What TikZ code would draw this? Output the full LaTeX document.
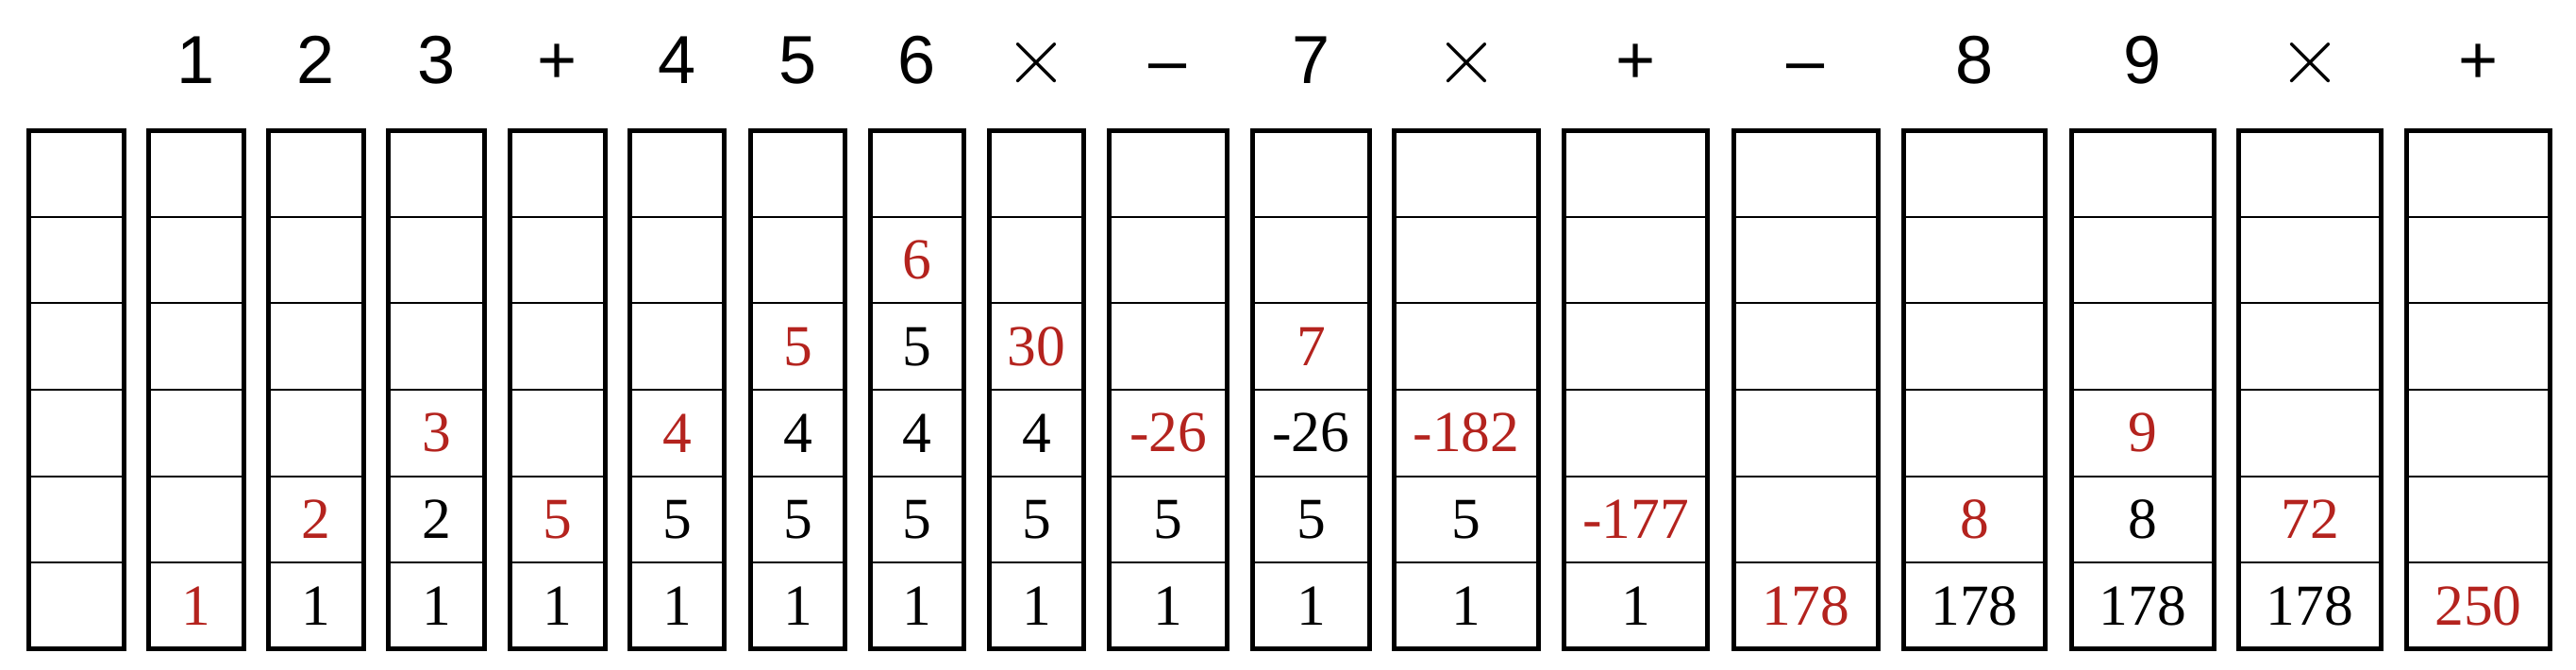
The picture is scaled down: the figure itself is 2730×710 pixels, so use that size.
\documentclass[tikz,border=0pt]{standalone}
\usepackage{fontspec}
\setmainfont{Liberation Serif}
\newfontfamily\headfont{Liberation Sans}
\usetikzlibrary{positioning}
\definecolor{newred}{RGB}{180,35,30}
\tikzset{
cell/.style = { rectangle, draw = black, line width = 0.6pt, inner sep = 0pt, minimum height = 9.158mm },
stack/.style = { rectangle, draw = black, line width = 1.3pt, inner sep = 0pt, minimum height = 54.95mm },
head/.style = { font = \headfont\fontsize{20.5}{24}\selectfont, inner sep = 0pt, anchor = base },
times/.style = { head, font = \fontsize{24}{28}\selectfont },
num/.style = { font = \fontsize{17.5}{21}\selectfont, inner sep = 0pt },
new/.style = { num, text = newred },
}

\begin{document}
\begin{tikzpicture}[x=0.1mm, y=-0.1mm]
    \useasboundingbox (0,0) rectangle (2730,710);
    % stacks: index / left edge / right edge
    \foreach \i/\a/\b in {0/28/134, 1/155/261, 2/282/388, 3/409/516, 4/538/644, 5/665/770,
                          6/793/898, 7/920/1024, 8/1046/1151, 9/1173/1303, 10/1325/1454,
                          11/1475/1633, 12/1655/1812, 13/1835/1993, 14/2015/2170,
                          15/2193/2349, 16/2370/2526, 17/2548/2705} {
      \pgfmathsetmacro\cx{(\a+\b)/2}
      \pgfmathsetmacro\w{(\b-\a-4.5)/10}
      \foreach \k in {1,...,6} {
        \pgfmathsetmacro\cy{687.75-(\k-0.5)*91.58}
        \node[cell, minimum width = \w mm] (c\i-\k) at (\cx,\cy) {};
      }
      \node[stack, minimum width = \w mm] (s\i) at (\cx,413) {};
    }
    % tokens read
    \coordinate (hy) at (0,89);
    \foreach \i/\hd in {1/1, 2/2, 3/3, 4/+, 5/4, 6/5, 7/6, 9/–, 10/7,
                        12/+, 13/–, 14/8, 15/9, 17/+}
      \node[head] (h\i) at (s\i |- hy) {\hd};
    \foreach \i in {8, 11, 16}
      \node[times] (h\i) at (s\i |- hy) {$\times$};
    % stack contents, bottom to top
    \foreach \val/\sty [count=\k] in {1/new} \node[\sty] (v1-\k) at (c1-\k) {\val};
    \foreach \val/\sty [count=\k] in {1/num, 2/new} \node[\sty] (v2-\k) at (c2-\k) {\val};
    \foreach \val/\sty [count=\k] in {1/num, 2/num, 3/new} \node[\sty] (v3-\k) at (c3-\k) {\val};
    \foreach \val/\sty [count=\k] in {1/num, 5/new} \node[\sty] (v4-\k) at (c4-\k) {\val};
    \foreach \val/\sty [count=\k] in {1/num, 5/num, 4/new} \node[\sty] (v5-\k) at (c5-\k) {\val};
    \foreach \val/\sty [count=\k] in {1/num, 5/num, 4/num, 5/new} \node[\sty] (v6-\k) at (c6-\k) {\val};
    \foreach \val/\sty [count=\k] in {1/num, 5/num, 4/num, 5/num, 6/new} \node[\sty] (v7-\k) at (c7-\k) {\val};
    \foreach \val/\sty [count=\k] in {1/num, 5/num, 4/num, 30/new} \node[\sty] (v8-\k) at (c8-\k) {\val};
    \foreach \val/\sty [count=\k] in {1/num, 5/num, -26/new} \node[\sty] (v9-\k) at (c9-\k) {\val};
    \foreach \val/\sty [count=\k] in {1/num, 5/num, -26/num, 7/new} \node[\sty] (v10-\k) at (c10-\k) {\val};
    \foreach \val/\sty [count=\k] in {1/num, 5/num, -182/new} \node[\sty] (v11-\k) at (c11-\k) {\val};
    \foreach \val/\sty [count=\k] in {1/num, -177/new} \node[\sty] (v12-\k) at (c12-\k) {\val};
    \foreach \val/\sty [count=\k] in {178/new} \node[\sty] (v13-\k) at (c13-\k) {\val};
    \foreach \val/\sty [count=\k] in {178/num, 8/new} \node[\sty] (v14-\k) at (c14-\k) {\val};
    \foreach \val/\sty [count=\k] in {178/num, 8/num, 9/new} \node[\sty] (v15-\k) at (c15-\k) {\val};
    \foreach \val/\sty [count=\k] in {178/num, 72/new} \node[\sty] (v16-\k) at (c16-\k) {\val};
    \foreach \val/\sty [count=\k] in {250/new} \node[\sty] (v17-\k) at (c17-\k) {\val};
\end{tikzpicture}
\end{document}
